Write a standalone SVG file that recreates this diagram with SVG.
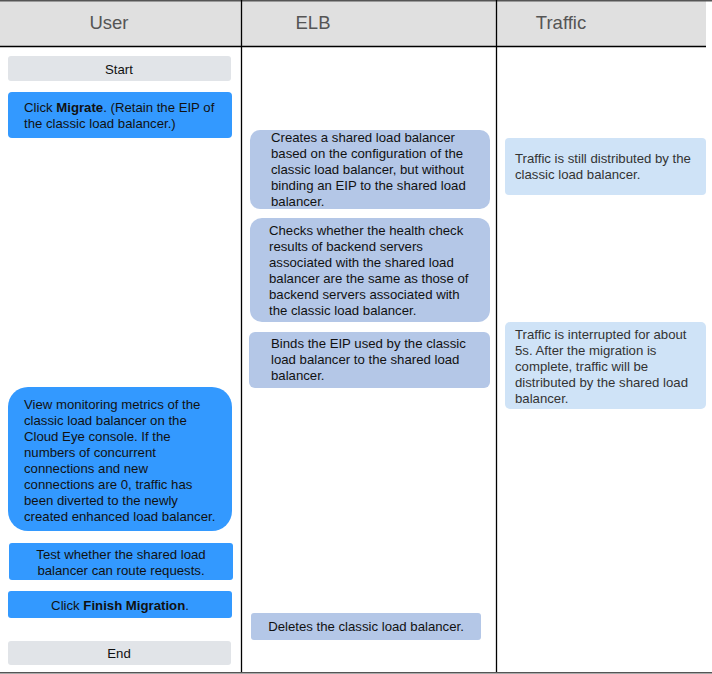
<svg xmlns="http://www.w3.org/2000/svg" width="712" height="674" viewBox="0 0 712 674">
<style>
text{font-family:"Liberation Sans",Arial,sans-serif;font-size:13.2px;fill:#111}
.hd{font-size:18.5px;fill:#555;text-anchor:middle}
.tr{fill:#333}
.c{text-anchor:middle}
.user{fill:#3399ff}
.elb{fill:#b4c7e7}
.traf{fill:#cfe3f7}
.term{fill:#e1e4e8}
.ln{stroke:#000;stroke-width:1.3}
.bd{stroke:#555;stroke-width:1.5}
</style>
<rect width="712" height="674" fill="#fff"/>
<g id="lanes">
<rect x="0" y="1" width="706" height="45" fill="#e0e0e0"/>
<line class="bd" x1="0" y1="0.75" x2="712" y2="0.75"/>
<line class="ln" x1="0" y1="46.5" x2="706" y2="46.5"/>
<line class="ln" x1="241.5" y1="0" x2="241.5" y2="673"/>
<line class="ln" x1="496.5" y1="0" x2="496.5" y2="673"/>
<line class="bd" x1="0" y1="672.75" x2="712" y2="672.75"/>
<text class="hd" x="109" y="29">User</text>
<text class="hd" x="313" y="29">ELB</text>
<text class="hd" x="561" y="29">Traffic</text>
</g>
<g id="connectors"></g>
<g id="start">
<rect class="term" x="8" y="56" width="223" height="25" rx="3"/>
<text class="c" x="119" y="74">Start</text>
</g>
<g id="migrate">
<rect class="user" x="8" y="92" width="224" height="46" rx="4"/>
<text x="24" y="112">Click <tspan font-weight="bold">Migrate</tspan>. (Retain the EIP of</text>
<text x="24" y="128">the classic load balancer.)</text>
</g>
<g id="create">
<rect class="elb" x="250" y="130" width="240" height="79" rx="10"/>
<text x="271" y="142">Creates a shared load balancer</text>
<text x="271" y="158">based on the configuration of the</text>
<text x="271" y="174">classic load balancer, but without</text>
<text x="271" y="190">binding an EIP to the shared load</text>
<text x="271" y="206">balancer.</text>
</g>
<g id="check">
<rect class="elb" x="250" y="218" width="240" height="104" rx="12"/>
<text x="269" y="235">Checks whether the health check</text>
<text x="269" y="251">results of backend servers</text>
<text x="269" y="267">associated with the shared load</text>
<text x="269" y="283">balancer are the same as those of</text>
<text x="269" y="299">backend servers associated with</text>
<text x="269" y="315">the classic load balancer.</text>
</g>
<g id="bind">
<rect class="elb" x="249" y="332" width="241" height="56" rx="6"/>
<text x="271" y="348">Binds the EIP used by the classic</text>
<text x="271" y="364">load balancer to the shared load</text>
<text x="271" y="380">balancer.</text>
</g>
<g id="traffic1">
<rect class="traf" x="505" y="138" width="201" height="57" rx="4"/>
<text class="tr" x="515" y="163">Traffic is still distributed by the</text>
<text class="tr" x="515" y="179">classic load balancer.</text>
</g>
<g id="traffic2">
<rect class="traf" x="505" y="322" width="201" height="87" rx="5"/>
<text class="tr" x="515" y="339">Traffic is interrupted for about</text>
<text class="tr" x="515" y="355">5s. After the migration is</text>
<text class="tr" x="515" y="371">complete, traffic will be</text>
<text class="tr" x="515" y="387">distributed by the shared load</text>
<text class="tr" x="515" y="403">balancer.</text>
</g>
<g id="monitor">
<rect class="user" x="8" y="387" width="224" height="144" rx="20"/>
<text x="24" y="409">View monitoring metrics of the</text>
<text x="24" y="425">classic load balancer on the</text>
<text x="24" y="441">Cloud Eye console. If the</text>
<text x="24" y="457">numbers of concurrent</text>
<text x="24" y="473">connections and new</text>
<text x="24" y="489">connections are 0, traffic has</text>
<text x="24" y="505">been diverted to the newly</text>
<text x="24" y="521">created enhanced load balancer.</text>
</g>
<g id="test">
<rect class="user" x="9" y="543" width="224" height="37" rx="3"/>
<text class="c" x="121" y="559">Test whether the shared load</text>
<text class="c" x="121" y="575">balancer can route requests.</text>
</g>
<g id="finish">
<rect class="user" x="8" y="591" width="224" height="27" rx="3"/>
<text class="c" x="120" y="610">Click <tspan font-weight="bold">Finish Migration</tspan>.</text>
</g>
<g id="delete">
<rect class="elb" x="251" y="613" width="230" height="27" rx="3"/>
<text class="c" x="366" y="631">Deletes the classic load balancer.</text>
</g>
<g id="end">
<rect class="term" x="8" y="641" width="223" height="24" rx="3"/>
<text class="c" x="119" y="658">End</text>
</g>
</svg>
